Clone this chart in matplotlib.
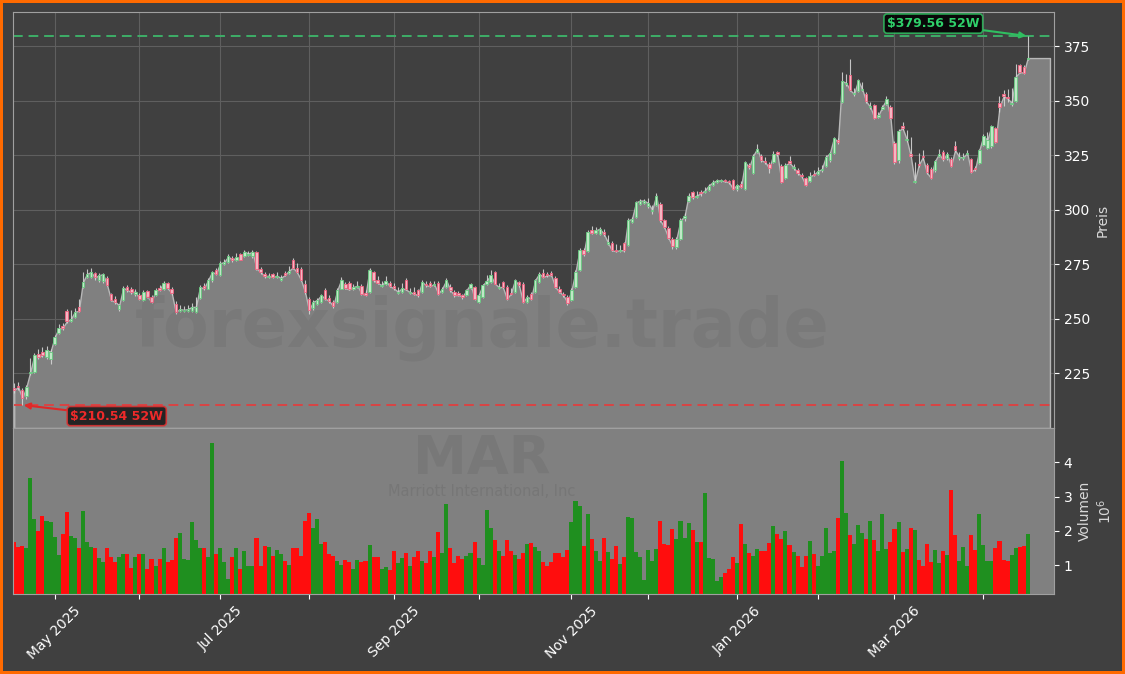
import numpy as np
import matplotlib
matplotlib.use('Agg')
import matplotlib.pyplot as plt

# ── data: MAR daily candles (trading-day index), volume in millions ─────────
opens = [
    218.2, 219.2, 217.5, 214.5, 225.0, 225.5, 234.0, 235.0, 232.4, 231.5,
    238.7, 243.5, 246.8, 253.8, 248.9, 251.0, 255.5, 264.5, 269.0, 269.2,
    270.8, 267.7, 267.5, 268.9, 261.6, 259.0, 254.5, 258.6, 264.6, 263.8,
    261.3, 260.8, 258.6, 262.6, 260.1, 261.0, 264.2, 263.9, 266.5, 263.5,
    257.0, 253.5, 253.5, 253.6, 253.8, 253.2, 259.5, 265.2, 263.9, 267.7,
    272.6, 270.0, 275.2, 276.0, 277.8, 277.0, 279.7, 278.8, 279.3, 278.8,
    280.8, 273.0, 270.5, 269.2, 270.7, 269.0, 268.0, 271.0, 271.2, 277.1,
    273.5, 273.0, 266.2, 259.3, 254.8, 257.0, 257.8, 263.4, 259.5, 257.8,
    257.8, 263.9, 266.2, 266.5, 263.8, 264.5, 265.0, 261.8, 262.4, 271.5,
    268.0, 265.0, 266.2, 266.5, 265.0, 262.0, 262.5, 267.7, 261.8, 262.5,
    263.1, 262.4, 266.0, 266.5, 265.5, 266.5, 262.4, 264.6, 264.6, 262.4,
    261.8, 260.8, 260.8, 264.3, 264.6, 257.8, 260.0, 266.0, 266.9, 271.5,
    264.0, 266.9, 264.6, 262.0, 262.4, 266.9, 266.2, 257.8, 261.6, 262.4,
    266.9, 271.0, 270.5, 271.0, 268.5, 263.5, 261.6, 260.1, 258.5, 264.6,
    272.3, 281.7, 281.1, 290.8, 289.5, 289.0, 290.0, 284.5, 284.7, 281.5,
    281.0, 284.7, 283.7, 294.3, 296.6, 302.7, 303.0, 301.9, 299.5, 302.0,
    302.7, 295.1, 291.7, 286.7, 282.9, 286.7, 296.0, 304.2, 308.0, 306.0,
    308.0, 308.0, 309.0, 311.5, 312.8, 313.0, 313.5, 313.2, 313.4, 309.6,
    311.6, 309.6, 320.5, 317.0, 326.4, 324.8, 322.5, 321.0, 321.8, 326.4,
    320.2, 314.5, 322.5, 319.0, 318.0, 316.0, 314.5, 313.0, 316.5, 316.5,
    318.0, 320.2, 322.7, 325.9, 332.0, 349.2, 357.8, 361.8, 353.0, 354.5,
    355.0, 353.1, 347.0, 347.9, 342.5, 346.3, 348.4, 347.2, 330.7, 322.6,
    338.3, 332.0, 325.5, 312.6, 320.8, 324.5, 320.5, 318.8, 318.0, 324.5,
    326.5, 323.6, 323.1, 329.0, 323.8, 323.5, 325.5, 323.1, 319.0, 321.4,
    329.8, 328.2, 329.0, 337.4, 349.0, 353.0, 351.5, 348.5, 350.0, 366.1,
    365.3, 369.0]
highs = [
    220.5, 221.0, 218.5, 219.5, 232.0, 234.5, 236.0, 237.0, 237.5, 236.0,
    242.5, 247.5, 248.0, 254.5, 254.0, 255.0, 259.0, 271.5, 273.0, 273.5,
    271.5, 271.0, 271.0, 269.5, 262.0, 260.5, 257.0, 265.0, 265.5, 264.5,
    263.5, 262.0, 263.0, 263.2, 261.0, 264.0, 265.5, 267.5, 267.0, 264.5,
    258.0, 256.5, 256.0, 256.5, 257.5, 260.0, 265.5, 266.5, 268.5, 272.0,
    273.5, 276.5, 277.5, 279.5, 278.8, 280.0, 280.3, 281.5, 281.0, 281.5,
    281.2, 273.8, 271.5, 271.0, 271.2, 271.5, 270.0, 272.0, 274.0, 278.0,
    275.5, 273.8, 268.0, 260.0, 258.5, 259.5, 261.5, 264.0, 261.0, 258.5,
    264.0, 269.0, 266.8, 267.2, 266.0, 267.5, 265.8, 263.0, 273.5, 272.0,
    269.5, 267.5, 269.5, 267.5, 266.5, 264.5, 266.5, 268.5, 264.0, 264.5,
    263.8, 267.8, 267.5, 267.3, 267.5, 267.2, 264.6, 268.5, 266.0, 263.0,
    262.8, 261.5, 263.8, 266.5, 265.2, 261.5, 266.0, 270.0, 272.5, 272.0,
    266.5, 267.5, 265.5, 264.0, 268.3, 267.5, 266.8, 261.0, 262.5, 268.3,
    271.5, 273.0, 271.5, 272.0, 269.5, 265.0, 262.5, 260.8, 264.0, 272.2,
    282.5, 282.5, 290.5, 292.5, 292.0, 292.0, 291.0, 288.5, 285.5, 284.5,
    284.0, 285.2, 296.0, 296.6, 304.0, 305.0, 305.0, 305.5, 302.0, 307.5,
    303.5, 295.8, 292.5, 287.5, 287.5, 296.0, 298.5, 307.5, 308.8, 308.5,
    309.0, 310.3, 312.0, 313.7, 314.3, 314.1, 314.0, 313.8, 314.0, 312.0,
    313.0, 322.5, 321.5, 325.5, 330.0, 325.5, 324.0, 321.8, 327.0, 327.0,
    320.8, 321.2, 324.5, 321.0, 319.0, 317.0, 315.2, 317.5, 318.0, 319.5,
    320.5, 325.0, 326.5, 333.5, 333.0, 363.0, 362.0, 369.0, 356.0, 360.0,
    358.5, 354.0, 349.5, 348.5, 345.0, 348.0, 352.0, 347.8, 331.5, 337.0,
    340.0, 336.5, 333.5, 322.0, 326.0, 327.5, 321.5, 319.5, 323.0, 328.0,
    327.2, 326.5, 324.0, 331.5, 326.5, 326.0, 327.5, 323.8, 320.0, 328.0,
    334.5, 335.5, 339.0, 338.0, 352.0, 355.0, 355.2, 356.0, 367.0, 367.0,
    366.5, 379.56]
lows = [
    216.0, 217.5, 210.54, 213.5, 224.5, 225.0, 231.5, 232.5, 231.5, 229.2,
    238.0, 243.0, 245.0, 248.0, 248.5, 250.5, 253.0, 264.0, 268.5, 268.5,
    268.0, 267.0, 266.5, 265.0, 258.0, 257.0, 253.5, 258.0, 262.5, 261.5,
    260.5, 258.8, 258.0, 259.5, 257.2, 260.5, 262.8, 263.0, 263.5, 261.0,
    252.2, 253.0, 253.0, 253.0, 253.2, 252.8, 259.0, 263.0, 263.5, 267.0,
    270.0, 269.5, 274.5, 275.5, 276.0, 276.5, 276.8, 278.2, 278.8, 278.0,
    272.5, 270.5, 268.8, 268.5, 268.6, 268.5, 267.5, 269.5, 270.5, 273.0,
    271.0, 267.5, 261.6, 252.2, 254.2, 256.5, 257.2, 258.8, 257.5, 255.2,
    257.2, 263.5, 263.5, 263.0, 263.2, 264.0, 261.0, 260.3, 262.0, 267.0,
    265.8, 264.5, 265.5, 264.5, 263.2, 261.5, 262.0, 263.0, 261.2, 261.0,
    260.2, 262.0, 264.8, 264.5, 265.0, 261.0, 261.8, 264.0, 262.5, 260.2,
    260.5, 259.0, 260.3, 263.8, 258.8, 257.3, 259.5, 265.5, 266.5, 265.8,
    263.5, 264.0, 258.8, 261.0, 262.0, 264.8, 257.3, 257.3, 258.8, 262.0,
    266.5, 268.6, 269.2, 269.5, 264.0, 261.8, 260.2, 256.3, 258.0, 264.0,
    271.8, 279.0, 280.5, 288.8, 289.0, 288.5, 288.0, 284.0, 281.0, 280.5,
    280.5, 280.8, 283.2, 293.8, 296.0, 302.0, 302.5, 301.0, 298.1, 301.5,
    294.5, 291.5, 286.7, 281.8, 282.0, 286.2, 295.0, 303.5, 305.0, 305.5,
    306.5, 307.5, 308.5, 311.0, 312.2, 312.5, 312.5, 312.0, 309.0, 308.5,
    309.8, 309.0, 318.5, 316.5, 325.8, 322.0, 321.0, 317.0, 321.2, 324.8,
    312.2, 314.0, 321.0, 318.3, 316.0, 314.5, 310.8, 312.5, 315.5, 316.0,
    317.5, 319.8, 322.0, 325.5, 330.0, 348.8, 356.5, 354.2, 352.0, 353.8,
    354.5, 349.0, 346.0, 341.5, 342.0, 345.5, 348.0, 341.5, 321.0, 321.4,
    336.5, 331.0, 324.0, 312.1, 319.5, 323.0, 316.5, 314.0, 317.5, 324.0,
    322.5, 323.0, 319.5, 326.5, 323.0, 322.6, 325.0, 317.0, 317.8, 320.8,
    329.2, 327.8, 328.5, 330.5, 345.0, 347.6, 349.5, 347.5, 349.5, 362.5,
    362.0, 368.5]
closes = [
    217.5, 218.7, 213.7, 218.7, 225.8, 233.5, 232.5, 233.5, 235.6, 235.0,
    241.5, 245.6, 245.8, 248.9, 249.8, 253.2, 253.7, 266.8, 270.5, 271.5,
    269.0, 270.0, 270.5, 265.5, 258.6, 257.8, 256.2, 264.2, 263.3, 262.2,
    262.5, 259.3, 262.3, 260.1, 257.8, 263.0, 263.4, 266.5, 264.0, 261.9,
    253.2, 254.5, 254.2, 254.5, 255.5, 255.5, 264.5, 264.0, 267.7, 271.5,
    270.7, 275.5, 276.0, 278.6, 277.0, 278.2, 277.2, 280.8, 279.9, 280.8,
    273.0, 271.5, 269.5, 269.8, 269.2, 269.8, 268.8, 270.0, 272.0, 273.5,
    271.5, 268.0, 262.5, 254.0, 257.8, 258.6, 260.8, 259.3, 258.2, 255.8,
    263.1, 268.0, 264.0, 263.5, 264.6, 265.2, 261.6, 261.0, 272.6, 267.7,
    266.5, 265.5, 267.5, 265.0, 264.0, 262.5, 264.0, 263.5, 262.2, 261.6,
    260.8, 266.9, 265.4, 265.0, 266.0, 261.6, 263.9, 267.7, 263.1, 260.8,
    261.0, 260.1, 263.1, 265.9, 259.3, 260.8, 265.4, 267.5, 270.0, 266.2,
    264.6, 264.6, 259.3, 261.6, 267.7, 265.4, 257.8, 260.1, 259.3, 267.7,
    270.7, 269.2, 270.0, 270.0, 264.6, 262.4, 260.8, 257.5, 263.1, 271.5,
    281.4, 279.6, 289.8, 289.3, 290.5, 291.3, 289.0, 285.2, 281.4, 281.0,
    281.5, 281.4, 295.1, 295.9, 303.4, 304.2, 304.2, 303.0, 300.0, 306.5,
    295.1, 292.0, 287.2, 283.2, 286.7, 295.1, 297.0, 306.5, 305.7, 306.5,
    307.5, 308.8, 311.1, 312.6, 313.4, 313.4, 313.0, 312.6, 309.6, 311.4,
    310.4, 321.8, 319.4, 324.8, 328.0, 322.7, 321.8, 318.9, 325.4, 325.4,
    312.9, 320.5, 321.5, 319.4, 317.0, 315.3, 311.3, 315.3, 316.1, 317.7,
    318.6, 324.3, 325.9, 332.9, 331.0, 359.0, 358.1, 354.8, 353.1, 359.3,
    355.3, 349.6, 347.1, 342.2, 343.2, 347.2, 350.6, 342.2, 322.0, 336.1,
    337.4, 332.4, 324.8, 313.0, 320.5, 324.0, 317.1, 314.6, 322.2, 325.5,
    323.1, 325.6, 320.2, 327.3, 324.3, 324.0, 326.0, 317.5, 318.8, 327.3,
    333.7, 332.0, 338.3, 331.0, 347.0, 352.0, 351.0, 349.0, 361.0, 363.1,
    362.8, 369.5]
volumes = [
    1.67, 1.54, 1.56, 1.51, 3.54, 2.35, 1.99, 2.43, 2.28, 2.25,
    1.82, 1.31, 1.90, 2.54, 1.86, 1.78, 1.49, 2.57, 1.69, 1.52,
    1.49, 1.22, 1.08, 1.49, 1.25, 1.08, 1.25, 1.34, 1.34, 0.93,
    1.25, 1.34, 1.34, 0.90, 1.19, 0.99, 1.19, 1.49, 1.08, 1.14,
    1.78, 1.93, 1.19, 1.14, 2.25, 1.72, 1.51, 1.51, 1.25, 4.56,
    1.34, 1.51, 1.08, 0.61, 1.25, 1.51, 0.90, 1.42, 0.99, 0.97,
    1.78, 0.99, 1.57, 1.54, 1.28, 1.45, 1.34, 1.11, 1.02, 1.49,
    1.51, 1.28, 2.28, 2.51, 2.07, 2.36, 1.63, 1.69, 1.33, 1.28,
    1.11, 1.02, 1.14, 1.08, 0.90, 1.14, 1.08, 1.11, 1.60, 1.25,
    1.25, 0.90, 0.96, 0.85, 1.42, 1.05, 1.22, 1.37, 0.99, 1.25,
    1.40, 1.11, 1.05, 1.40, 1.25, 1.96, 1.37, 2.77, 1.49, 1.05,
    1.28, 1.19, 1.28, 1.37, 1.69, 1.22, 1.02, 2.62, 2.07, 1.72,
    1.42, 1.28, 1.72, 1.42, 1.31, 1.19, 1.37, 1.63, 1.66, 1.54,
    1.40, 1.08, 0.99, 1.08, 1.37, 1.36, 1.24, 1.43, 2.25, 2.87,
    2.74, 1.55, 2.48, 1.76, 1.41, 1.12, 1.79, 1.38, 1.18, 1.55,
    1.03, 1.23, 2.40, 2.37, 1.38, 1.23, 0.56, 1.43, 1.12, 1.46,
    2.28, 1.61, 1.58, 2.05, 1.76, 2.28, 1.79, 2.23, 2.02, 1.67,
    1.67, 3.10, 1.20, 1.17, 0.53, 0.65, 0.77, 0.88, 1.23, 1.06,
    2.19, 1.61, 1.35, 1.26, 1.46, 1.41, 1.41, 1.64, 2.13, 1.90,
    1.76, 1.99, 1.58, 1.38, 1.26, 0.94, 1.26, 1.70, 1.32, 0.97,
    1.26, 2.08, 1.35, 1.41, 2.37, 4.03, 2.52, 1.87, 1.61, 2.17,
    1.94, 1.76, 2.28, 1.73, 1.41, 2.49, 1.46, 1.67, 2.05, 2.25,
    1.38, 1.46, 2.08, 2.02, 1.14, 0.99, 1.61, 1.08, 1.43, 1.06,
    1.41, 1.29, 3.18, 1.87, 1.12, 1.52, 0.99, 1.87, 1.43, 2.48,
    1.58, 1.12, 1.12, 1.49, 1.70, 1.14, 1.12, 1.29, 1.49, 1.52,
    1.55, 1.90]

# first trading day of each month (index into the series) and labels
month_idx    = [10, 31, 51, 73, 94, 115, 138, 157, 179, 199, 218, 240]
month_labels = ['May 2025', '', 'Jul 2025', '', 'Sep 2025', '', 'Nov 2025', '',
                'Jan 2026', '', 'Mar 2026', '']

ticker       = 'MAR'
company      = 'Marriott International, Inc'
high_52w     = 379.56
low_52w      = 210.54

# ── colours ──────────────────────────────────────────────────────────────────
BG      = '#404040'
FILL    = '#808080'
GRID    = '#5f5f5f'
SPINE   = '#a0a0a0'
TXT     = 'white'
UP_VOL, DN_VOL = '#1f8f1f', '#ff0d0d'
GREEN_L, RED_L = '#3dae68', '#d94444'

O = np.array(opens); H = np.array(highs); L = np.array(lows); C = np.array(closes)
V = np.array(volumes)
x = np.arange(len(C))
up = C >= O

# ── figure ──────────────────────────────────────────────────────────────────
fig = plt.figure(figsize=(11.25, 6.74), dpi=100)
fig.patch.set_facecolor(BG)
fig.patch.set_edgecolor('#ff6a00')
fig.patch.set_linewidth(4)

W, Hh = 1125, 674
ax  = fig.add_axes([13 / W, 1 - 428 / Hh, 1041 / W, 416 / Hh])
axv = fig.add_axes([13 / W, 1 - 594 / Hh, 1041 / W, 166 / Hh], sharex=ax)

# ── price panel ─────────────────────────────────────────────────────────────
ax.set_facecolor(BG)
ax.set_axisbelow(True)
ax.grid(True, color=GRID, lw=0.8)
ymin, ymax = 200.0, 390.6

xf = np.append(x, x[-1] + 5.5)
cf = np.append(C, C[-1])
ax.fill_between(xf, cf, ymin, facecolor=FILL, edgecolor='#b8b8b8', lw=1.0, zorder=1)

ax.axhline(high_52w, color=GREEN_L, ls=(0, (5, 3)), lw=1.4, zorder=2)
ax.axhline(low_52w, color=RED_L, ls=(0, (5, 3)), lw=1.4, zorder=2)

ax.vlines(x, L, H, color='#d4d4d4', lw=0.8, alpha=0.9, zorder=3)
body_lo = np.minimum(O, C)
body_h = np.maximum(np.abs(C - O), 0.35)
face = np.where(up, '#bfe8c6', '#f4b7c3')
edge = np.where(up, '#66c97f', '#f0607e')
ax.bar(x, body_h, bottom=body_lo, width=0.6, color=face, edgecolor=edge,
       lw=0.6, zorder=4)

ax.set_ylim(ymin, ymax)
ax.set_xlim(-0.3, 257.5)
ax.set_yticks([225, 250, 275, 300, 325, 350, 375])
ax.yaxis.tick_right()
ax.yaxis.set_label_position('right')
ax.set_ylabel('Preis', color='#d8d8d8', fontsize=10)
ax.tick_params(axis='y', colors=TXT, labelsize=10)
ax.tick_params(axis='x', bottom=False, labelbottom=False)
for s in ax.spines.values():
    s.set_color(SPINE)

# 52W annotations
ax.annotate(f'${high_52w:.2f} 52W', xy=(x[-1], high_52w), xytext=(-68, 9),
            textcoords='offset points', ha='center', va='center',
            color='#2fd06a', fontsize=9, fontweight='bold',
            bbox=dict(boxstyle='round,pad=0.25', fc='black', ec='#2fbf60', lw=1.2, alpha=0.85),
            arrowprops=dict(arrowstyle='-|>', color='#2fbf60', lw=1.5, shrinkA=0, shrinkB=1),
            zorder=6)
i_low = int(np.argmin(L))
ax.annotate(f'${low_52w:.2f} 52W', xy=(x[i_low], low_52w), xytext=(68, -8),
            textcoords='offset points', ha='center', va='center',
            color='#ee2a2a', fontsize=9, fontweight='bold',
            bbox=dict(boxstyle='round,pad=0.25', fc='#141414', ec='#e03030', lw=1.2, alpha=0.85),
            arrowprops=dict(arrowstyle='-|>', color='#e02828', lw=1.5, shrinkA=0, shrinkB=1),
            zorder=6)

# ── volume panel ────────────────────────────────────────────────────────────
axv.set_facecolor(FILL)
axv.bar(x, V, width=1.0, color=np.where(up, UP_VOL, DN_VOL), lw=0, zorder=2)
axv.set_ylim(0.16, 5.0)
axv.set_yticks([1, 2, 3, 4])
axv.yaxis.tick_right()
axv.yaxis.set_label_position('right')
axv.set_ylabel('Volumen\n$10^6$', color='#d8d8d8', fontsize=10)
axv.tick_params(axis='y', colors=TXT, labelsize=10)
axv.set_xticks(month_idx)
axv.set_xticklabels(month_labels, rotation=45, ha='center', color=TXT, fontsize=10)
axv.tick_params(axis='x', colors=TXT)
for s in axv.spines.values():
    s.set_color(SPINE)
ax.set_xlim(-0.3, 257.5)

# ── watermarks ──────────────────────────────────────────────────────────────
fig.text(482 / W, 1 - 328 / Hh, 'forexsignale.trade', ha='center', va='center',
         fontsize=48, fontweight='bold', color=(0, 0, 0, 0.05))
fig.text(482 / W, 1 - 459 / Hh, ticker, ha='center', va='center',
         fontsize=39, fontweight='bold', color=(0, 0, 0, 0.06))
fig.text(482 / W, 1 - 492 / Hh, company, ha='center', va='center',
         fontsize=10.5, color=(0, 0, 0, 0.07))

fig.savefig('out.png', dpi=100, facecolor=fig.get_facecolor(),
            edgecolor=fig.get_edgecolor())
